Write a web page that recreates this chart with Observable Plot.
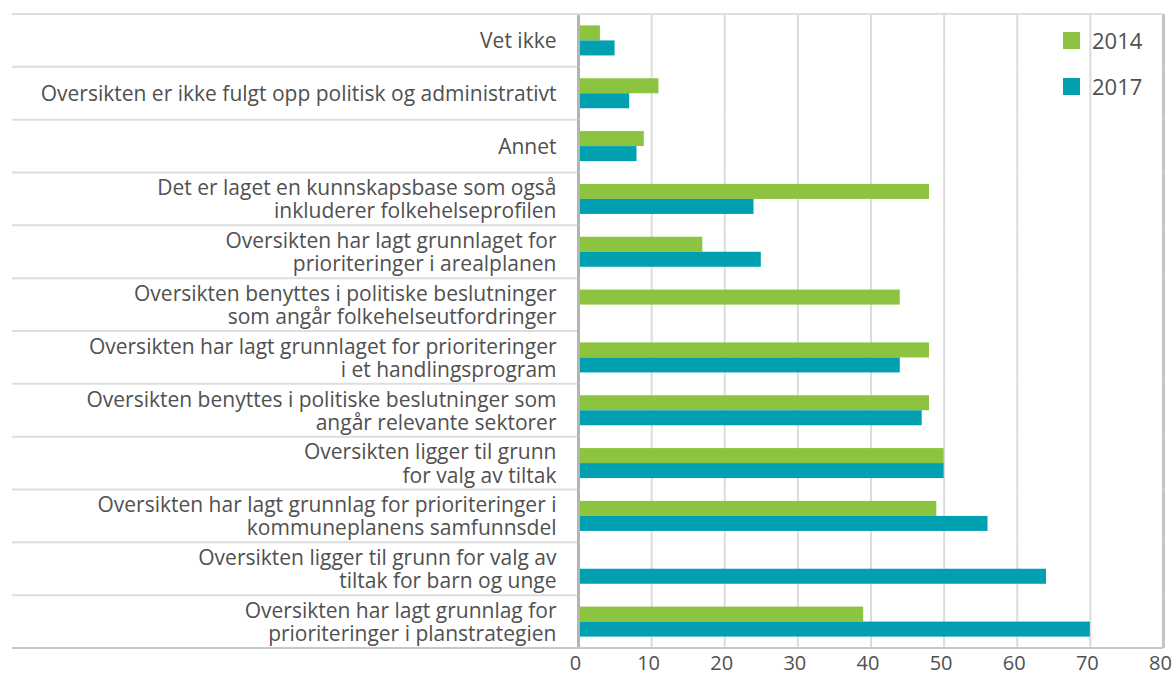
<!DOCTYPE html>
<html>
<head>
<meta charset="utf-8">
<script src="https://cdn.jsdelivr.net/npm/d3@7"></script>
<script src="https://cdn.jsdelivr.net/npm/@observablehq/plot@0.6"></script>
<style>
  html, body { margin: 0; padding: 0; background: #fff; }
  #wrap { position: relative; width: 1176px; height: 681px; font-family: "Open Sans", sans-serif; color: #505050; }
  #legend { position: absolute; left: 1063px; top: 30px; font-size: 22px; }
  .item { display: flex; align-items: center; height: 20px; margin-bottom: 26px; }
  .sw { width: 17px; height: 17px; margin-right: 12px; }
</style>
</head>
<body>
<div id="wrap"></div>
<script>
const categories = [
  "Vet ikke",
  "Oversikten er ikke fulgt opp politisk og administrativt",
  "Annet",
  "Det er laget en kunnskapsbase som også inkluderer folkehelseprofilen",
  "Oversikten har lagt grunnlaget for prioriteringer i arealplanen",
  "Oversikten benyttes i politiske beslutninger som angår folkehelseutfordringer",
  "Oversikten har lagt grunnlaget for prioriteringer i et handlingsprogram",
  "Oversikten benyttes i politiske beslutninger som angår relevante sektorer",
  "Oversikten ligger til grunn for valg av tiltak",
  "Oversikten har lagt grunnlag for prioriteringer i kommuneplanens samfunnsdel",
  "Oversikten ligger til grunn for valg av tiltak for barn og unge",
  "Oversikten har lagt grunnlag for prioriteringer i planstrategien"
];
const labelLines = [
  "Vet ikke",
  "Oversikten er ikke fulgt opp politisk og administrativt",
  "Annet",
  "Det er laget en kunnskapsbase som også\ninkluderer folkehelseprofilen",
  "Oversikten har lagt grunnlaget for\nprioriteringer i arealplanen",
  "Oversikten benyttes i politiske beslutninger\nsom angår folkehelseutfordringer",
  "Oversikten har lagt grunnlaget for prioriteringer\ni et handlingsprogram",
  "Oversikten benyttes i politiske beslutninger som\nangår relevante sektorer",
  "Oversikten ligger til grunn\nfor valg av tiltak",
  "Oversikten har lagt grunnlag for prioriteringer i\nkommuneplanens samfunnsdel",
  "Oversikten ligger til grunn for valg av\ntiltak for barn og unge",
  "Oversikten har lagt grunnlag for\nprioriteringer i planstrategien"
];
const years = ["2014", "2017"];
const values2014 = [3, 11, 9, 48, 17, 44, 48, 48, 50, 49, null, 39];
const values2017 = [5, 7, 8, 24, 25, null, 44, 47, 50, 56, 64, 70];
const xTicks = [0, 10, 20, 30, 40, 50, 60, 70, 80];
const colors = ["#8cc43f", "#00a0b0"];

const data = [];
categories.forEach((c, i) => {
  if (values2014[i] != null) data.push({cat: c, year: "2014", value: values2014[i]});
  if (values2017[i] != null) data.push({cat: c, year: "2017", value: values2017[i]});
});
const labelOf = new Map(categories.map((c, i) => [c, labelLines[i]]));

const chart = Plot.plot({
  width: 1176,
  height: 681,
  marginLeft: 578,
  marginRight: 13,
  marginTop: 14,
  marginBottom: 33,
  style: {fontFamily: "'Open Sans', sans-serif", color: "#505050", background: "#fff"},
  x: {domain: [0, 80]},
  y: {domain: years, paddingInner: 0, paddingOuter: 0.76, round: false, axis: null},
  fy: {domain: categories, padding: 0, round: false},
  color: {domain: years, range: colors},
  marks: [
    Plot.ruleX(xTicks.slice(1, -1), {stroke: "#dcdcdc", strokeWidth: 2}),
    Plot.barX(data, {x: "value", y: "year", fy: "cat", fill: "year"}),
    Plot.ruleX([0], {stroke: "#b4b4b4", strokeWidth: 3}),
    Plot.ruleX([80], {stroke: "#c4c4c4", strokeWidth: 3}),
    Plot.axisX({ticks: xTicks, tickSize: 0, tickPadding: 7, fontSize: 20, dx: -3, label: null, fill: "#505050"}),
    Plot.axisFy({anchor: "left", tickSize: 0, tickPadding: 22, fontSize: 21, lineHeight: 1.1, label: null, fill: "#505050",
      tickFormat: d => labelOf.get(d)})
  ]
});
document.getElementById("wrap").appendChild(chart);

// horizontal separators from the fy scale
const fy = chart.scale("fy");
const svg = d3.select(chart);
const bounds = categories.map(c => fy.apply(c));
const bw = fy.bandwidth;
bounds.push(bounds[bounds.length - 1] + bw);
const g = svg.append("g").attr("stroke-width", 2);
bounds.forEach((y, i) => {
  const last = i === bounds.length - 1;
  const first = i === 0;
  g.append("line")
    .attr("x1", 12).attr("x2", first || last ? 1163 : 577)
    .attr("y1", y).attr("y2", y)
    .attr("stroke", last ? "#c8c8c8" : "#dedede");
});

// legend
const legend = d3.select("#wrap").append("div").attr("id", "legend");
years.forEach((y, i) => {
  const it = legend.append("div").attr("class", "item");
  it.append("div").attr("class", "sw").style("background", colors[i]);
  it.append("span").text(y);
});
</script>
</body>
</html>
